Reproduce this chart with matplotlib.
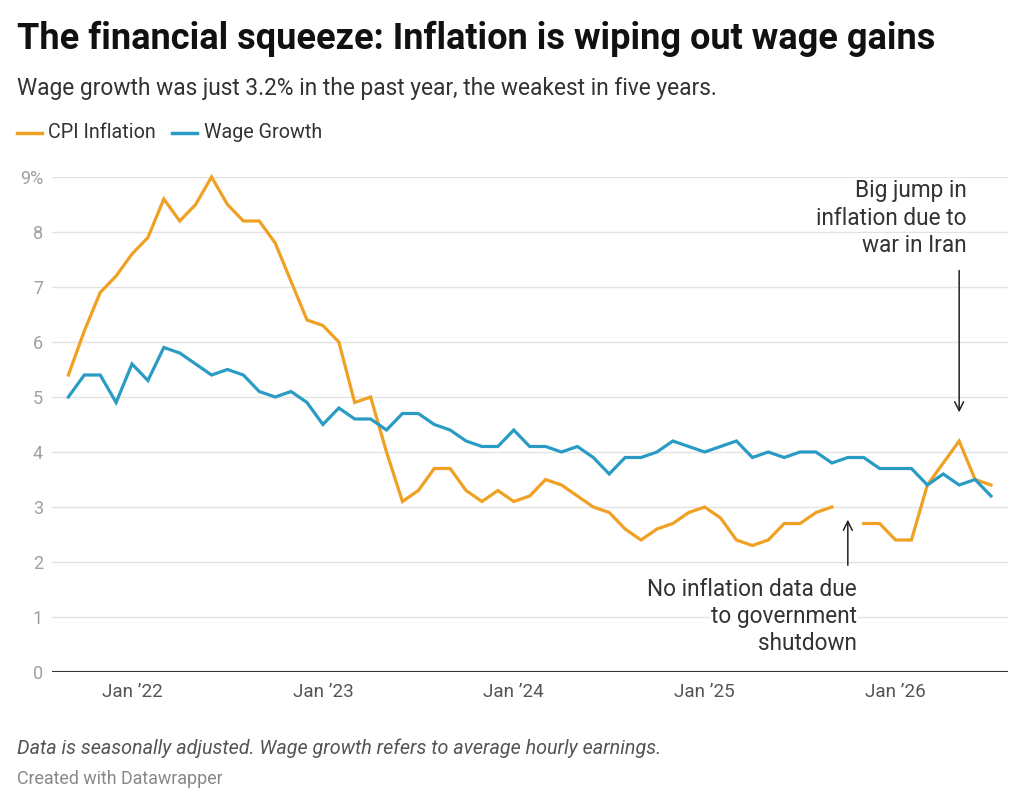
import numpy as np
import pandas as pd
import matplotlib
matplotlib.use("Agg")
import matplotlib.pyplot as plt

plt.rcParams['font.family'] = ['Roboto', 'DejaVu Sans']

# monthly data, Sep 2021 .. Jul 2026 (Oct 2025 missing for CPI)
months = pd.date_range('2021-09-01', periods=59, freq='MS')
cpi = [5.4, 6.2, 6.9, 7.2, 7.6, 7.9, 8.6, 8.2, 8.5, 9.0, 8.5, 8.2, 8.2, 7.8, 7.1, 6.4, 6.3, 6.0, 4.9,
       5.0, 4.0, 3.1, 3.3, 3.7, 3.7, 3.3, 3.1, 3.3, 3.1, 3.2, 3.5, 3.4, 3.2, 3.0, 2.9, 2.6,
       2.4, 2.6, 2.7, 2.9, 3.0, 2.8, 2.4, 2.3, 2.4, 2.7, 2.7, 2.9, 3.0,
       np.nan,
       2.7, 2.7, 2.4, 2.4, 3.4, 3.8, 4.2, 3.5, 3.4]
wages = [5.0, 5.4, 5.4, 4.9, 5.6, 5.3, 5.9, 5.8, 5.6, 5.4, 5.5, 5.4, 5.1, 5.0, 5.1, 4.9, 4.5, 4.8, 4.6,
         4.6, 4.4, 4.7, 4.7, 4.5, 4.4, 4.2, 4.1, 4.1, 4.4, 4.1, 4.1, 4.0, 4.1, 3.9, 3.6, 3.9, 3.9, 4.0,
         4.2, 4.1, 4.0, 4.1, 4.2, 3.9, 4.0, 3.9, 4.0, 4.0, 3.8, 3.9, 3.9, 3.7, 3.7, 3.7, 3.4, 3.6, 3.4, 3.5, 3.2]
y_ticks = [0, 1, 2, 3, 4, 5, 6, 7, 8, 9]

ORANGE = '#F0A023'
BLUE = '#2A9CC4'
W, H = 1024, 807

fig = plt.figure(figsize=(W / 100, H / 100), dpi=100)


def fx(px):
    return px / W


def fy(py):
    return 1 - py / H


ax = fig.add_axes([fx(52), fy(672), fx(1008) - fx(52), fy(177) - fy(672)])
x = np.arange(len(months))
ax.plot(x, cpi, color=ORANGE, lw=2.3, solid_joinstyle='miter', clip_on=False, zorder=3)
ax.plot(x, wages, color=BLUE, lw=2.3, solid_joinstyle='miter', clip_on=False, zorder=3)

ax.set_xlim(-1.03, 59.07)
ax.set_ylim(0, 9)
ax.set_yticks(y_ticks)
ax.set_yticklabels([f'{t}%' if t == 9 else str(t) for t in y_ticks])
jan = [i for i, m in enumerate(months) if m.month == 1]
ax.set_xticks(jan)
ax.set_xticklabels([f"Jan \u2019{months[i].year % 100:02d}" for i in jan])

for s in ax.spines.values():
    s.set_visible(False)
ax.grid(axis='y', color='#e3e3e3', lw=1)
ax.set_axisbelow(True)
ax.axhline(0, color='#333333', lw=1.5, zorder=2)
ax.tick_params(axis='y', length=0, pad=6.5, labelsize=13, labelcolor='#a0a0a0')
ax.tick_params(axis='x', length=0, pad=8, labelsize=13.6, labelcolor='#555555')

# annotations
ax.annotate('', xy=(56, 4.67), xytext=(56, 7.35),
            arrowprops=dict(arrowstyle='->', color='#222222', lw=1.1, mutation_scale=16))
ax.annotate('', xy=(49, 2.82), xytext=(49, 1.89),
            arrowprops=dict(arrowstyle='->', color='#222222', lw=1.1, mutation_scale=16))
for i, line in enumerate(['Big jump in', 'inflation due to', 'war in Iran']):
    fig.text(fx(967), fy(191 + 27.5 * i), line, ha='right', va='center', fontsize=16.3, color='#333333',
             bbox=dict(facecolor='white', edgecolor='none', pad=1))
for i, line in enumerate(['No inflation data due', 'to government', 'shutdown']):
    fig.text(fx(857), fy(590 + 27 * i), line, ha='right', va='center', fontsize=16.3, color='#333333',
             bbox=dict(facecolor='white', edgecolor='none', pad=1))

# title, subtitle, legend
fig.text(fx(17), fy(39), 'The financial squeeze: Inflation is wiping out wage gains',
         fontsize=26, fontweight='bold', color='#111111', va='center')
fig.text(fx(17), fy(88), 'Wage growth was just 3.2% in the past year, the weakest in five years.',
         fontsize=16.4, color='#333333', va='center')
fig.add_artist(plt.Line2D([fx(17), fx(42)], [fy(133), fy(133)], color=ORANGE, lw=2.5))
fig.text(fx(48), fy(133), 'CPI Inflation', fontsize=14.2, color='#333333', va='center')
fig.add_artist(plt.Line2D([fx(172), fx(197)], [fy(133), fy(133)], color=BLUE, lw=2.5))
fig.text(fx(204), fy(133), 'Wage Growth', fontsize=14.2, color='#333333', va='center')

# footer
fig.text(fx(17), fy(748), 'Data is seasonally adjusted. Wage growth refers to average hourly earnings.',
         fontsize=14.2, style='italic', color='#555555', va='center')
fig.text(fx(17), fy(779), 'Created with Datawrapper', fontsize=12.9, color='#888888', va='center')

fig.savefig('out.png', dpi=100, facecolor='white')
